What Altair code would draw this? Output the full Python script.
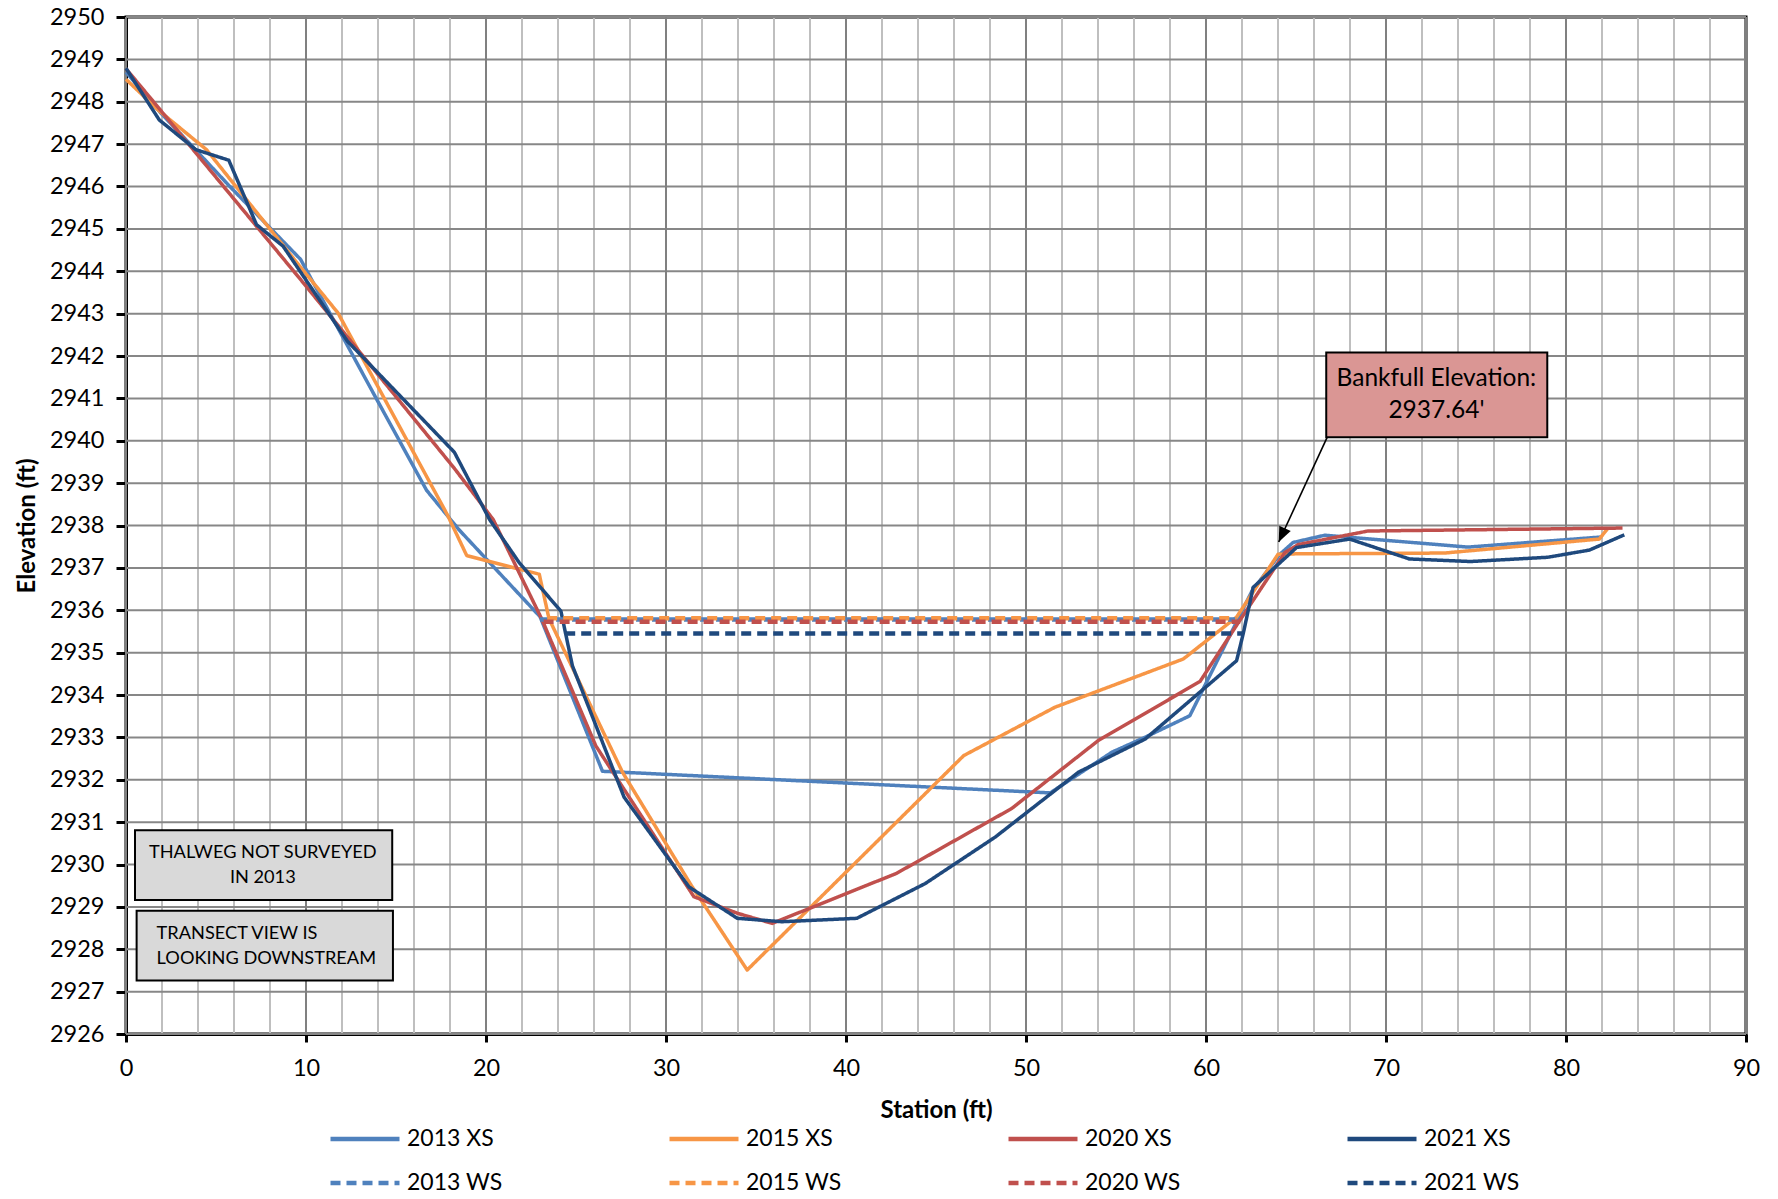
import altair as alt
import pandas as pd

# ---------------- data ----------------
series_names = ["2013 XS", "2015 XS", "2020 XS", "2021 XS",
                "2013 WS", "2015 WS", "2020 WS", "2021 WS"]
series_colors = ["#4F81BD", "#F79646", "#C0504D", "#1F497D",
                 "#4F81BD", "#F79646", "#C0504D", "#1F497D"]
series_dash = [[1, 0], [1, 0], [1, 0], [1, 0],
               [10, 6], [10, 6], [10, 6], [10, 6]]

xs2013_sta = [0, 1.9, 3.9, 5.77, 9.7, 13.9, 16.7, 18.5, 23.0, 26.47, 51.35,
              54.77, 56.6, 59.1, 62.55, 64.1, 64.84, 66.6, 74.55, 82.0]
xs2013_elev = [2948.7, 2947.75, 2946.85, 2946.0, 2944.28, 2941.0, 2938.83, 2937.9,
               2935.85, 2932.2, 2931.69, 2932.65, 2933.0, 2933.51, 2936.45, 2937.32,
               2937.6, 2937.77, 2937.49, 2937.73]

xs2015_sta = [0, 1.8, 4.47, 9.65, 11.77, 17.87, 18.93, 22.96, 23.5, 27.58, 31.4,
              34.51, 46.54, 51.6, 58.74, 61.7, 64.0, 64.75, 73.25, 81.85, 82.3]
xs2015_elev = [2948.53, 2947.8, 2946.87, 2944.12, 2943.02, 2938.24, 2937.29, 2936.85,
               2935.8, 2932.18, 2929.51, 2927.51, 2932.57, 2933.71, 2934.85, 2935.84,
               2937.32, 2937.33, 2937.35, 2937.68, 2937.92]

xs2020_sta = [0, 1.92, 10.0, 18.24, 20.4, 23.1, 26.1, 31.55, 33.96, 35.9, 42.8,
              49.2, 54.03, 59.67, 61.8, 64.38, 65.12, 69.0, 83.14]
xs2020_elev = [2948.78, 2947.8, 2943.65, 2939.35, 2938.14, 2935.79, 2932.8, 2929.24,
               2928.85, 2928.61, 2929.79, 2931.32, 2932.93, 2934.32, 2935.71, 2937.36,
               2937.55, 2937.87, 2937.94]

xs2021_sta = [0, 1.85, 3.88, 5.71, 7.25, 8.73, 12.3, 18.24, 20.2, 21.85, 24.16, 24.8,
              27.67, 31.28, 33.96, 36.45, 40.6, 44.4, 48.3, 52.92, 56.62, 61.7, 62.07,
              62.62, 65.03, 67.98, 71.3, 74.7, 78.98, 81.3, 83.24]
xs2021_elev = [2948.79, 2947.57, 2946.87, 2946.62, 2945.1, 2944.59, 2942.35, 2939.73,
               2938.14, 2937.12, 2935.98, 2934.69, 2931.59, 2929.47, 2928.73, 2928.65,
               2928.73, 2929.55, 2930.65, 2932.18, 2932.96, 2934.81, 2935.45, 2936.54,
               2937.48, 2937.68, 2937.21, 2937.15, 2937.25, 2937.42, 2937.78]

ws2013_sta = [23.0, 61.7]
ws2013_elev = [2935.78, 2935.78]
ws2015_sta = [23.4, 61.7]
ws2015_elev = [2935.81, 2935.81]
ws2020_sta = [23.2, 61.9]
ws2020_elev = [2935.73, 2935.73]
ws2021_sta = [24.4, 62.07]
ws2021_elev = [2935.45, 2935.45]

# grid / tick values
x_major = list(range(0, 91, 10))
x_minor = list(range(0, 91, 2))
y_ticks = list(range(2926, 2951))

# annotations (data units)
note_box_x0 = [0.5, 0.59]
note_box_x1 = [14.79, 14.83]
note_box_y0 = [2929.16, 2927.26]
note_box_y1 = [2930.81, 2928.91]
note1_lines = ["THALWEG NOT SURVEYED", "IN 2013"]
note1_x = [7.6, 7.6]
note1_y = [2930.28, 2929.67]
note2_lines = ["TRANSECT VIEW IS", "LOOKING DOWNSTREAM"]
note2_x = [1.7, 1.7]
note2_y = [2928.37, 2927.77]
bank_box = {"x0": [66.68], "x1": [78.96], "y0": [2940.08], "y1": [2942.08]}
bank_lines = ["Bankfull Elevation:", "2937.64'"]
bank_x = [72.8, 72.8]
bank_y = [2941.45, 2940.71]
arrow_start = (66.73, 2940.08)
arrow_tip = (64.04, 2937.61)

# ---------------- tables ----------------
def long(name, sta, elev):
    return pd.DataFrame({"series": name, "station": sta, "elev": elev})

xs_df = pd.concat([long("2013 XS", xs2013_sta, xs2013_elev),
                   long("2015 XS", xs2015_sta, xs2015_elev),
                   long("2020 XS", xs2020_sta, xs2020_elev),
                   long("2021 XS", xs2021_sta, xs2021_elev)], ignore_index=True)
ws_df = pd.concat([long("2013 WS", ws2013_sta, ws2013_elev),
                   long("2015 WS", ws2015_sta, ws2015_elev),
                   long("2020 WS", ws2020_sta, ws2020_elev),
                   long("2021 WS", ws2021_sta, ws2021_elev)], ignore_index=True)

FONT = "Lato"
xs = alt.Scale(domain=[0, 90], nice=False, zero=False)
ys = alt.Scale(domain=[2926, 2950], nice=False, zero=False)

xaxis = alt.Axis(values=x_major, title="Station (ft)", grid=False,
                 domainColor="black", domainWidth=3, tickColor="black", tickWidth=3,
                 tickSize=8, labelFontSize=23.5, labelFont=FONT, labelColor="black",
                 labelPadding=14, labelFlush=False, labelOverlap=False,
                 titleFontSize=24, titleFont=FONT, titleFontWeight="bold",
                 titleColor="black", titleX=810, titleY=76, titleBaseline="middle",
                 titleAlign="center")
yaxis = alt.Axis(values=y_ticks, format="d", title="Elevation (ft)", grid=False,
                 domainColor="black", domainWidth=3, tickColor="black", tickWidth=3,
                 tickSize=10, labelFontSize=23.5, labelFont=FONT, labelColor="black",
                 labelPadding=12, labelFlush=False, labelOverlap=False,
                 titleFontSize=24, titleFont=FONT, titleFontWeight="bold",
                 titleColor="black", titleX=-99, titleY=508.5, titleAngle=270,
                 titleBaseline="middle", titleAlign="center")


def X(f):
    return alt.X(f, type="quantitative", scale=xs, axis=xaxis)


def Y(f):
    return alt.Y(f, type="quantitative", scale=ys, axis=yaxis)


legend = alt.Legend(orient="none", legendX=202, legendY=1110, direction="horizontal",
                    columns=4, title=None, symbolType="stroke", symbolSize=4761,
                    symbolStrokeWidth=4.5, labelFontSize=23, labelFont=FONT,
                    labelColor="black", labelOffset=5, columnPadding=164,
                    rowPadding=20, clipHeight=24, padding=0, labelLimit=300)

color = alt.Color("series:N", scale=alt.Scale(domain=series_names, range=series_colors),
                  legend=legend)
dash = alt.StrokeDash("series:N", scale=alt.Scale(domain=series_names, range=series_dash),
                      legend=legend)

# ---------------- gridlines ----------------
minor_v = alt.Chart(pd.DataFrame({"g": x_minor})).mark_rule(
    color="#BFBFBF", strokeWidth=2).encode(x=X("g"))
horiz = alt.Chart(pd.DataFrame({"g": y_ticks})).mark_rule(
    color="#878787", strokeWidth=2).encode(y=Y("g"))
major_v = alt.Chart(pd.DataFrame({"g": x_major})).mark_rule(
    color="#808080", strokeWidth=2).encode(x=X("g"))

# ---------------- series ----------------
xs_lines = alt.Chart(xs_df).mark_line(strokeWidth=3.5, strokeJoin="round").encode(
    x=X("station"), y=Y("elev"), color=color, strokeDash=dash, detail="series:N")
ws_lines = alt.Chart(ws_df).mark_line(strokeWidth=4.5).encode(
    x=X("station"), y=Y("elev"), color=color, strokeDash=dash, detail="series:N")

# ---------------- annotations ----------------
note_boxes = alt.Chart(pd.DataFrame({"x0": note_box_x0, "x1": note_box_x1,
                                     "y0": note_box_y0, "y1": note_box_y1})).mark_rect(
    fill="#D9D9D9", stroke="black", strokeWidth=2).encode(
    x=X("x0"), x2="x1", y=Y("y0"), y2="y1")
note1 = alt.Chart(pd.DataFrame({"t": note1_lines, "x": note1_x, "y": note1_y})).mark_text(
    font=FONT, fontSize=18.2, color="black", align="center", baseline="middle").encode(
    x=X("x"), y=Y("y"), text="t:N")
note2 = alt.Chart(pd.DataFrame({"t": note2_lines, "x": note2_x, "y": note2_y})).mark_text(
    font=FONT, fontSize=18.2, color="black", align="left", baseline="middle").encode(
    x=X("x"), y=Y("y"), text="t:N")

bank_rect = alt.Chart(pd.DataFrame(bank_box)).mark_rect(
    fill="#DA9694", stroke="black", strokeWidth=2).encode(
    x=X("x0"), x2="x1", y=Y("y0"), y2="y1")
bank_txt = alt.Chart(pd.DataFrame({"t": bank_lines, "x": bank_x, "y": bank_y})).mark_text(
    font=FONT, fontSize=24.5, color="black", align="center", baseline="middle").encode(
    x=X("x"), y=Y("y"), text="t:N")
arrow_df = pd.DataFrame({"x0": [arrow_start[0]], "y0": [arrow_start[1]],
                         "x1": [arrow_tip[0]], "y1": [arrow_tip[1]]})
arrow_line = alt.Chart(arrow_df).mark_rule(color="black", strokeWidth=1.6).encode(
    x=X("x0"), y=Y("y0"), x2="x1", y2="y1")
arrow_head = alt.Chart(arrow_df).mark_point(
    shape="M0,0L0.42,1L-0.42,1Z", filled=True, color="black", opacity=1,
    size=900, angle=204.8, strokeWidth=0).encode(x=X("x1"), y=Y("y1"))

chart = alt.layer(
    minor_v, horiz, major_v, xs_lines, ws_lines,
    note_boxes, note1, note2, bank_rect, bank_txt, arrow_line, arrow_head
).properties(
    width=1620, height=1017,
    autosize=alt.AutoSizeParams(type="none"),
    padding={"left": 118, "top": 9, "right": 24, "bottom": 157},
    background="white",
).configure_view(stroke="black", strokeWidth=3)

chart.save("out.html", embed_options={"renderer": "svg", "actions": False})
